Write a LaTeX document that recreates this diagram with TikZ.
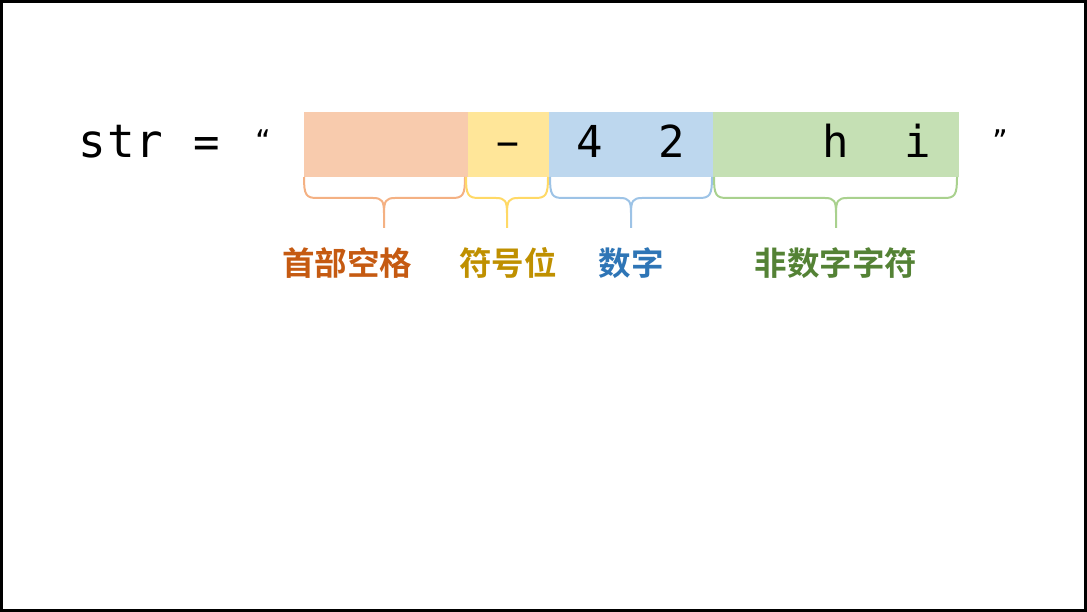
\documentclass[tikz,border=0pt]{standalone}
\usepackage{fontspec}
\newfontfamily\monofont{DejaVu Sans Mono}
\newfontfamily\cjkfont{Noto Sans CJK SC}[BoldFont={* Bold}]
\definecolor{fO}{HTML}{F8CBAD}
\definecolor{fY}{HTML}{FFE699}
\definecolor{fB}{HTML}{BDD7EE}
\definecolor{fG}{HTML}{C5E0B4}
\definecolor{bO}{HTML}{F4B183}
\definecolor{bY}{HTML}{FFD966}
\definecolor{bB}{HTML}{9DC3E6}
\definecolor{bG}{HTML}{A9D18E}
\definecolor{tO}{HTML}{C55A11}
\definecolor{tY}{HTML}{BF9000}
\definecolor{tB}{HTML}{2E75B6}
\definecolor{tG}{HTML}{548235}
\newcommand\cbrace[4]{%
  \draw[#1,line width=2pt,line join=round]
    (#2,177) .. controls (#2,195) and ({#2+2},198) .. ({#2+13},198) -- ({#4-11},198)
    .. controls ({#4-2},198) and (#4,201) .. (#4,213) -- (#4,228)
    (#4,213) .. controls (#4,201) and ({#4+2},198) .. ({#4+11},198) -- ({#3-13},198)
    .. controls ({#3-2},198) and (#3,195) .. (#3,177);}
\begin{document}
\begin{tikzpicture}[x=1pt,y=-1pt,
  cell/.style={draw=none,inner sep=0pt,minimum height=65pt,anchor=north west},
  ch/.style={font=\monofont\fontsize{44}{44}\selectfont,inner sep=0pt,anchor=base},
  lab/.style={font=\cjkfont\bfseries\fontsize{32.5}{32.5}\selectfont,inner sep=0pt,anchor=center}]
\useasboundingbox (0,0) rectangle (1087,612);
\draw[line width=3pt] (1.5,1.5) rectangle (1085.5,610.5);
% boxes
\node[cell,fill=fO,minimum width=164pt] (bo) at (304,112) {};
\node[cell,fill=fY,minimum width=81pt] (by) at (468,112) {};
\node[cell,fill=fB,minimum width=164pt] (bb) at (549,112) {};
\node[cell,fill=fG,minimum width=246pt] (bg) at (713,112) {};
% text
\node[ch,anchor=base west,font=\monofont\fontsize{46}{46}\selectfont,text width=90pt] (s) at (78,158) {s\hspace{1.2pt}t\hspace{1.2pt}r};
\node[ch] (eq) at (207,158) {=};
\node[ch,font=\monofont\fontsize{26}{26}\selectfont] (q1) at (263,150) {“};
\node[ch,font=\monofont\fontsize{26}{26}\selectfont] (q2) at (1000,150) {”};
\node[ch,font=\monofont\fontsize{38}{38}\selectfont] (c1) at (508,157) {−};
\node[ch] (c2) at (590,158) {4};
\node[ch] (c3) at (672,158) {2};
\node[ch] (c4) at (836,158) {h};
\node[ch] (c5) at (918,158) {i};
% braces
\cbrace{bO}{304}{465}{384}
\cbrace{bY}{466}{548}{507}
\cbrace{bB}{550}{712}{631}
\cbrace{bG}{714}{957}{836}
% labels
\node[lab,text=tO] (l1) at (347,263) {首部空格};
\node[lab,text=tY] (l2) at (508,263) {符号位};
\node[lab,text=tB] (l3) at (631,263) {数字};
\node[lab,text=tG] (l4) at (836,263) {非数字字符};
\end{tikzpicture}
\end{document}
